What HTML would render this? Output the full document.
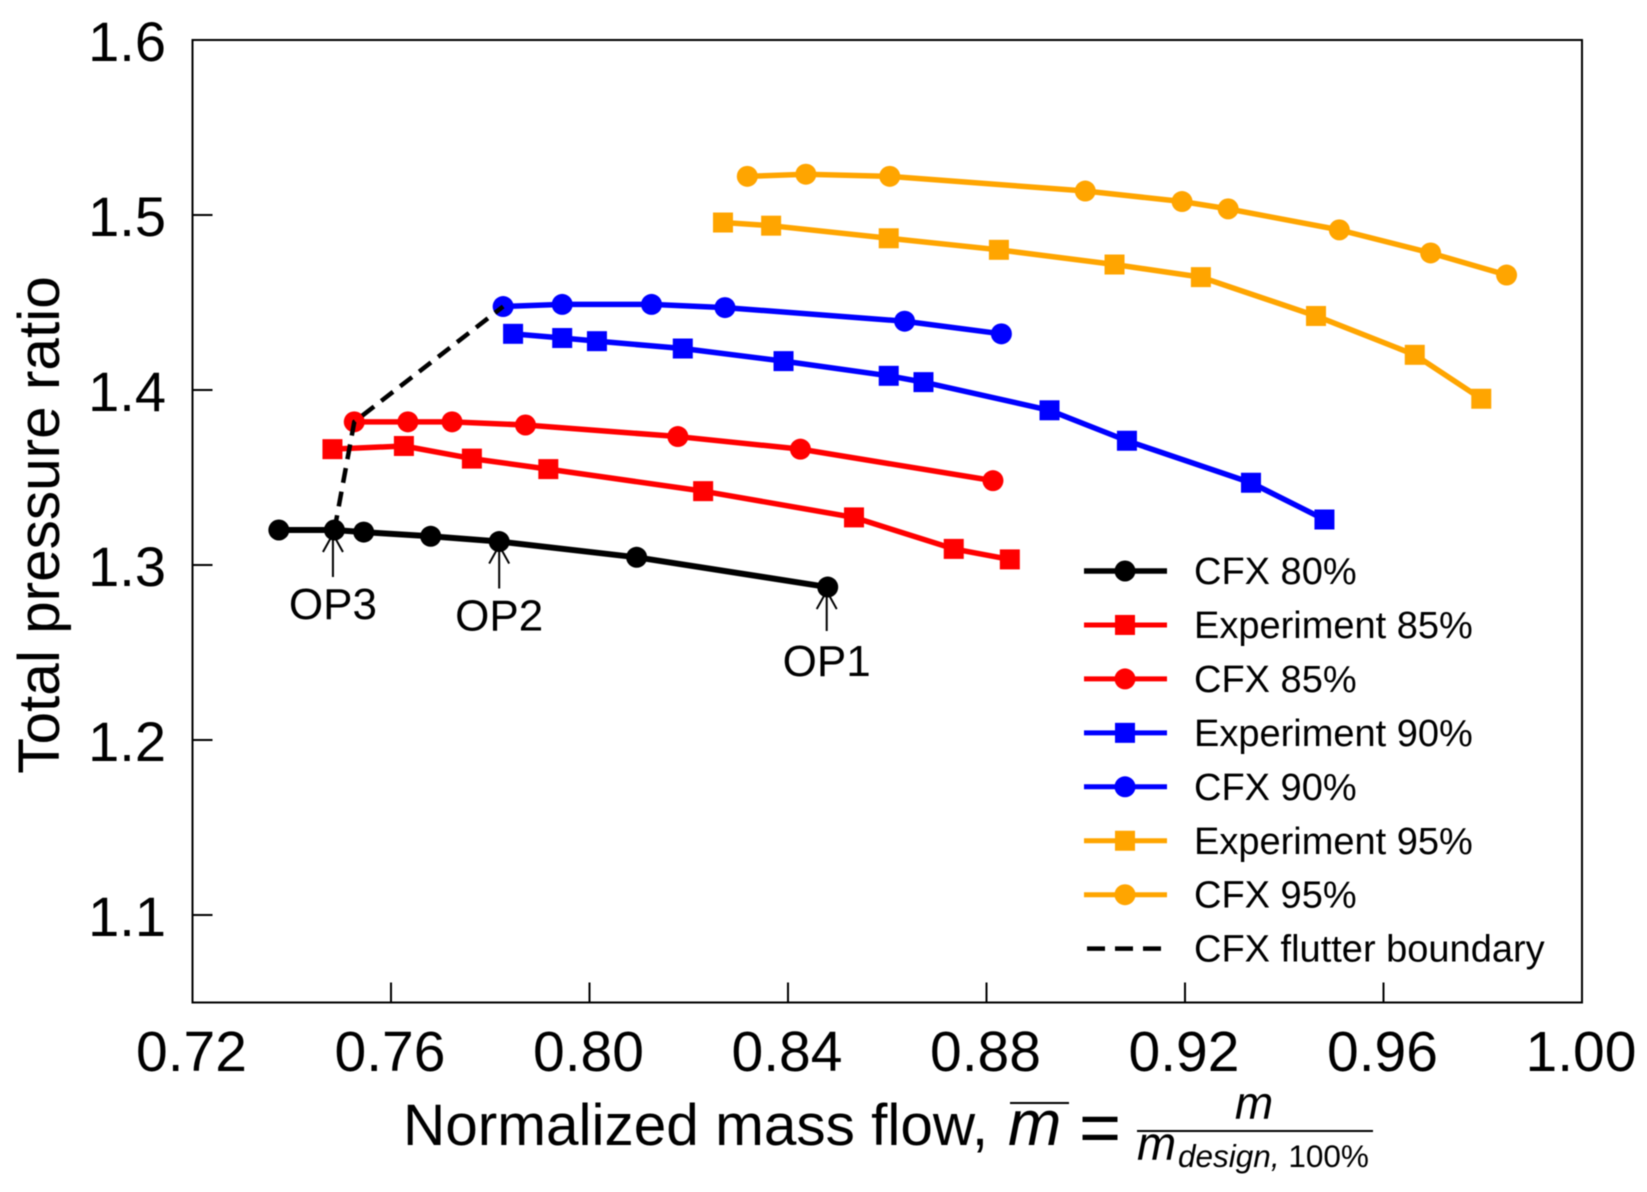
<!DOCTYPE html>
<html>
<head>
<meta charset="utf-8">
<title>Total pressure ratio vs normalized mass flow</title>
<style>
html,body{margin:0;padding:0;background:#fff;width:1647px;height:1192px;overflow:hidden}
svg{display:block;filter:blur(0.5px)}
text{font-family:"Liberation Sans",sans-serif;fill:#000}
</style>
</head>
<body>
<svg id="chart" xmlns="http://www.w3.org/2000/svg" width="1647" height="1192" viewBox="0 0 1647 1192">
  <rect x="0" y="0" width="1647" height="1192" fill="#fff"/>
  <text font-size="58.5" text-anchor="middle" transform="translate(59,525) rotate(-90)">Total pressure ratio</text>
  <text x="403" y="1145" font-size="58.5">Normalized mass flow,</text>
  <text x="1008" y="1145" font-size="64" font-style="italic">m</text>
  <line x1="1010" x2="1069" y1="1103" y2="1103" stroke="#000" stroke-width="2"/>
  <text x="1079" y="1152" font-size="72">=</text>
  <text x="1254" y="1119" font-size="46" font-style="italic" text-anchor="middle">m</text>
  <line x1="1137" x2="1373" y1="1131" y2="1131" stroke="#000" stroke-width="2"/>
  <text x="1137" y="1160" font-size="47" font-style="italic">m</text>
  <text x="1178" y="1167" font-size="31.5"><tspan font-style="italic">design,</tspan> 100%</text>
</svg>
<script>
var xTicks = [0.72, 0.76, 0.80, 0.84, 0.88, 0.92, 0.96, 1.00];
var xTickLabels = ['0.72', '0.76', '0.80', '0.84', '0.88', '0.92', '0.96', '1.00'];
var yTicks = [1.1, 1.2, 1.3, 1.4, 1.5, 1.6];
var yTickLabels = ['1.1', '1.2', '1.3', '1.4', '1.5', '1.6'];

var cfx80X = [0.7374, 0.7486, 0.7545, 0.7680, 0.7818, 0.8095, 0.8480];
var cfx80Y = [1.3200, 1.3200, 1.3188, 1.3164, 1.3134, 1.3044, 1.2874];
var exp85X = [0.7482, 0.7626, 0.7763, 0.7917, 0.8229, 0.8533, 0.8734, 0.8847];
var exp85Y = [1.3662, 1.3680, 1.3608, 1.3548, 1.3422, 1.3272, 1.3092, 1.3032];
var cfx85X = [0.7526, 0.7634, 0.7723, 0.7871, 0.8178, 0.8425, 0.8813];
var cfx85Y = [1.3818, 1.3818, 1.3818, 1.3800, 1.3734, 1.3662, 1.3482];
var exp90X = [0.7846, 0.7945, 0.8015, 0.8188, 0.8391, 0.8603, 0.8673, 0.8927, 0.9083, 0.9333, 0.9481];
var exp90Y = [1.4321, 1.4297, 1.4279, 1.4237, 1.4165, 1.4081, 1.4045, 1.3884, 1.3710, 1.3470, 1.3260];
var cfx90X = [0.7826, 0.7945, 0.8125, 0.8273, 0.8635, 0.8830];
var cfx90Y = [1.4477, 1.4489, 1.4489, 1.4471, 1.4393, 1.4321];
var exp95X = [0.8269, 0.8366, 0.8603, 0.8825, 0.9058, 0.9232, 0.9464, 0.9663, 0.9797];
var exp95Y = [1.4957, 1.4939, 1.4867, 1.4801, 1.4717, 1.4645, 1.4423, 1.4201, 1.3950];
var cfx95X = [0.8318, 0.8436, 0.8605, 0.8999, 0.9194, 0.9287, 0.9511, 0.9695, 0.9848];
var cfx95Y = [1.5221, 1.5233, 1.5221, 1.5137, 1.5077, 1.5035, 1.4915, 1.4783, 1.4657];
var flutterX = [0.7486, 0.7526, 0.7826];
var flutterY = [1.3200, 1.3818, 1.4477];

var opLabels = ['OP1', 'OP2', 'OP3'];
var opMassFlow = [0.8478, 0.7818, 0.7483];
var opPressure = [1.2874, 1.3134, 1.3200];

var legendLabels = ['CFX 80%', 'Experiment 85%', 'CFX 85%', 'Experiment 90%', 'CFX 90%', 'Experiment 95%', 'CFX 95%', 'CFX flutter boundary'];

var NS = 'http://www.w3.org/2000/svg';
var svg = document.getElementById('chart');
var plot = {left: 192.5, right: 1582, top: 40, bottom: 1002.5};

function xScale(v) { return plot.left + (v - 0.72) / 0.28 * (plot.right - plot.left); }
function yScale(v) { return plot.top + (1.6 - v) / 0.55 * (plot.bottom - plot.top); }

function make(tag, name, attrs, parent) {
  var el = document.createElementNS(NS, tag);
  
  
  for (var k in attrs) { el.setAttribute(k, attrs[k]); }
  (parent || svg).appendChild(el);
  return el;
}

make('rect', 'plot-frame', {x: plot.left, y: plot.top, width: plot.right - plot.left, height: plot.bottom - plot.top, fill: 'none', stroke: '#000', 'stroke-width': 2});

xTicks.forEach(function (t, i) {
  var x = xScale(t);
  if (i > 0 && i < xTicks.length - 1) {
    make('line', 'x-tick-' + xTickLabels[i], {x1: x, x2: x, y1: plot.bottom, y2: plot.bottom - 20, stroke: '#000', 'stroke-width': 2});
  }
  var lab = make('text', 'x-tick-label-' + xTickLabels[i], {x: x - 1, y: 1071, 'font-size': 57, 'text-anchor': 'middle'});
  lab.textContent = xTickLabels[i];
});

yTicks.forEach(function (t, i) {
  var y = yScale(t);
  if (i < yTicks.length - 1) {
    make('line', 'y-tick-' + yTickLabels[i], {x1: plot.left, x2: plot.left + 20, y1: y, y2: y, stroke: '#000', 'stroke-width': 2});
  }
  var lab = make('text', 'y-tick-label-' + yTickLabels[i], {x: 166, y: y + 21, 'font-size': 56, 'text-anchor': 'end'});
  lab.textContent = yTickLabels[i];
});

function drawMarker(shape, cx, cy, color, name, parent) {
  if (shape === 'square') {
    make('rect', name, {x: cx - 10, y: cy - 10, width: 20, height: 20, fill: color}, parent);
  } else {
    make('circle', name, {cx: cx, cy: cy, r: 10.5, fill: color}, parent);
  }
}

function drawSeries(name, xs, ys, color, shape, width) {
  var g = make('g', 'series-' + name, {});
  var pts = xs.map(function (v, i) { return xScale(v) + ',' + yScale(ys[i]); }).join(' ');
  make('polyline', name + '-line', {points: pts, fill: 'none', stroke: color, 'stroke-width': width, 'stroke-linejoin': 'round'}, g);
  xs.forEach(function (v, i) {
    drawMarker(shape, xScale(v), yScale(ys[i]), color, name + '-point-' + (i + 1), g);
  });
}

drawSeries('cfx-85', cfx85X, cfx85Y, '#ff0000', 'circle', 5.5);
drawSeries('experiment-85', exp85X, exp85Y, '#ff0000', 'square', 5.5);
drawSeries('cfx-80', cfx80X, cfx80Y, '#000000', 'circle', 6);
drawSeries('experiment-90', exp90X, exp90Y, '#0000ff', 'square', 5.5);
drawSeries('cfx-90', cfx90X, cfx90Y, '#0000ff', 'circle', 5.5);
drawSeries('experiment-95', exp95X, exp95Y, '#ffa500', 'square', 5.5);
drawSeries('cfx-95', cfx95X, cfx95Y, '#ffa500', 'circle', 5.5);

var flutterPts = flutterX.map(function (v, i) { return xScale(v) + ',' + yScale(flutterY[i]); }).join(' ');
make('polyline', 'flutter-boundary-line', {points: flutterPts, fill: 'none', stroke: '#000', 'stroke-width': 4.5, 'stroke-dasharray': '15 9'});

var opLabelGap = [89, 89, 89];
var opArrowLength = [40, 43, 43];
opLabels.forEach(function (label, i) {
  var x = xScale(opMassFlow[i]);
  var tip = yScale(opPressure[i]) + 4;
  var tail = tip + opArrowLength[i];
  var id = label.toLowerCase();
  var g = make('g', 'annotation-' + id, {});
  make('path', id + '-arrow', {d: 'M' + x + ' ' + tail + ' L' + x + ' ' + tip + ' M' + (x - 10) + ' ' + (tip + 18) + ' L' + x + ' ' + tip + ' L' + (x + 10) + ' ' + (tip + 18), fill: 'none', stroke: '#000', 'stroke-width': 2}, g);
  var t = make('text', id + '-label', {x: x, y: yScale(opPressure[i]) + opLabelGap[i], 'font-size': 44, 'text-anchor': 'middle'}, g);
  t.textContent = label;
});

var legendColors = ['#000000', '#ff0000', '#ff0000', '#0000ff', '#0000ff', '#ffa500', '#ffa500', '#000000'];
var legendShapes = ['circle', 'square', 'circle', 'square', 'circle', 'square', 'circle', 'dash'];
legendLabels.forEach(function (label, i) {
  var y = 571 + i * 53.95;
  var g = make('g', 'legend-entry-' + (i + 1), {});
  if (legendShapes[i] === 'dash') {
    make('line', 'legend-dash-' + (i + 1), {x1: 1087, x2: 1161, y1: y, y2: y, stroke: '#000', 'stroke-width': 4.5, 'stroke-dasharray': '18 10'}, g);
  } else {
    make('line', 'legend-line-' + (i + 1), {x1: 1084, x2: 1167, y1: y, y2: y, stroke: legendColors[i], 'stroke-width': i === 0 ? 5.5 : 5}, g);
    drawMarker(legendShapes[i], 1125, y, legendColors[i], 'legend-marker-' + (i + 1), g);
  }
  var t = make('text', 'legend-label-' + (i + 1), {x: 1194, y: y + 13, 'font-size': 38}, g);
  t.textContent = label;
});
</script>
</body>
</html>
